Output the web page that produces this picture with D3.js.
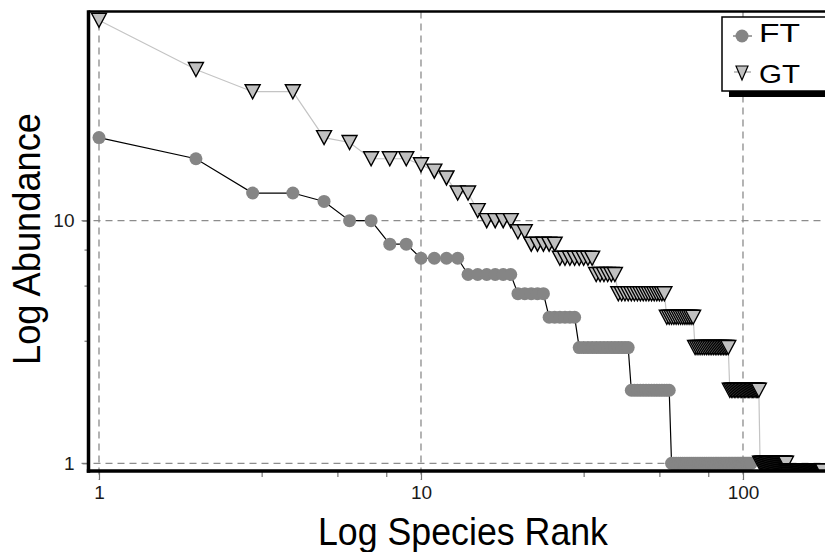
<!DOCTYPE html>
<html>
<head>
<meta charset="utf-8">
<script src="https://cdn.jsdelivr.net/npm/d3@7"></script>
<style>
  html, body { margin: 0; padding: 0; background: #fff; }
  svg { display: block; }
</style>
</head>
<body>
<svg id="chart" width="825" height="552"></svg>
<script>
// Rank-abundance data: abundance of each species, in rank order (rank = position + 1)
const seriesNames = ["FT", "GT"];

const ftAbundance = [
  22, 18, 13, 13, 12, 10, 10, 8, 8,
  7, 7, 7, 7,
  6, 6, 6, 6, 6, 6,
  5, 5, 5, 5, 5,
  4, 4, 4, 4, 4, 4,
  3, 3, 3, 3, 3, 3, 3, 3, 3, 3, 3, 3, 3, 3,
  2, 2, 2, 2, 2, 2, 2, 2, 2, 2, 2, 2, 2, 2, 2,
  1, 1, 1, 1, 1, 1, 1, 1, 1, 1, 1, 1, 1, 1, 1, 1, 1, 1, 1, 1, 1, 1, 1, 1,
  1, 1, 1, 1, 1, 1, 1, 1, 1, 1, 1, 1, 1, 1, 1, 1, 1, 1, 1, 1, 1, 1, 1
];

const gtAbundance = [
  67, 42, 34, 34, 22, 21, 18, 18, 18, 17, 16, 15, 13, 13, 11,
  10, 10, 10, 10,
  9, 9,
  8, 8, 8, 8, 8,
  7, 7, 7, 7, 7, 7, 7, 7,
  6, 6, 6, 6, 6, 6,
  5, 5, 5, 5, 5, 5, 5, 5, 5, 5, 5, 5, 5, 5, 5, 5, 5,
  4, 4, 4, 4, 4, 4, 4, 4, 4, 4, 4, 4, 4,
  3, 3, 3, 3, 3, 3, 3, 3, 3, 3, 3, 3, 3, 3, 3, 3, 3, 3, 3, 3,
  2, 2, 2, 2, 2, 2, 2, 2, 2, 2, 2, 2, 2, 2, 2, 2, 2, 2, 2, 2, 2, 2,
  1, 1, 1, 1, 1, 1, 1, 1, 1, 1, 1, 1, 1, 1, 1, 1, 1, 1, 1, 1, 1, 1, 1, 1,
  0.93, 0.93, 0.93, 0.93, 0.93, 0.93, 0.93, 0.93, 0.93, 0.93, 0.93, 0.93, 0.93, 0.93,
  0.93, 0.93, 0.93, 0.93, 0.93, 0.93, 0.93, 0.93, 0.93, 0.93, 0.93, 0.93, 0.93, 0.93,
  0.93, 0.93, 0.93, 0.93, 0.93, 0.93, 0.93, 0.93, 0.93, 0.93, 0.93, 0.93, 0.93
];

const xMajorTicks = [1, 10, 100];
const xMinorTicks = [3.2, 5.5, 7.8, 32, 55, 78];
const yMajorTicks = [1, 10];
const yMinorTicks = [3.2, 5.4, 7.6];
const xTitle = "Log Species Rank";
const yTitle = "Log Abundance";

// ---- layout ----
const svg = d3.select("#chart");
const plot = { left: 88.5, right: 830, top: 11.5, bottom: 471 };
const FONT = "'Liberation Sans', Arial, sans-serif";

const x = d3.scaleLog().domain([0.9277, 186.3]).range([plot.left, plot.right]);
const y = d3.scaleLog().domain([0.9295, 72.8]).range([plot.bottom, plot.top]);

const toPoints = arr => arr.map((v, i) => ({ rank: i + 1, value: v }));
const ftData = toPoints(ftAbundance);
const gtData = toPoints(gtAbundance);

svg.append("rect").attr("width", 825).attr("height", 552).attr("fill", "#fff");

svg.append("defs").append("clipPath").attr("id", "plotClip")
  .append("rect")
  .attr("x", plot.left).attr("y", plot.top)
  .attr("width", plot.right - plot.left).attr("height", plot.bottom - plot.top);

// ---- dashed grid ----
const grid = svg.append("g").attr("stroke", "#8c8c8c").attr("stroke-width", 1.3)
  .attr("stroke-dasharray", "7,5");
grid.selectAll("line.vx").data(xMajorTicks).join("line")
  .attr("x1", d => x(d)).attr("x2", d => x(d))
  .attr("y1", plot.top).attr("y2", plot.bottom + 9);
grid.selectAll("line.hy").data(yMajorTicks).join("line")
  .attr("y1", d => y(d)).attr("y2", d => y(d))
  .attr("x1", plot.left - 7).attr("x2", 825);

// ---- series ----
const line = d3.line().x(d => x(d.rank)).y(d => y(d.value));
const plotArea = svg.append("g").attr("clip-path", "url(#plotClip)");

const trianglePath = "M-7.5,-7L7.5,-7L0,7Z";

function drawFT(g) {
  g.append("path").datum(ftData).attr("d", line)
    .attr("fill", "none").attr("stroke", "#000").attr("stroke-width", 1.2);
  g.selectAll("circle.ft").data(ftData).join("circle")
    .attr("class", "ft")
    .attr("cx", d => x(d.rank)).attr("cy", d => y(d.value))
    .attr("r", 6.5).attr("fill", "#858585");
}
function drawGT(g) {
  g.append("path").datum(gtData).attr("d", line)
    .attr("fill", "none").attr("stroke", "#c4c4c4").attr("stroke-width", 1.2);
  g.selectAll("path.gt").data(gtData).join("path")
    .attr("class", "gt")
    .attr("d", trianglePath)
    .attr("transform", d => `translate(${x(d.rank)},${y(d.value)})`)
    .attr("fill", "#c0c0c0").attr("stroke", "#000").attr("stroke-width", 1.4)
    .attr("stroke-linejoin", "miter");
}
drawFT(plotArea.append("g"));
drawGT(plotArea.append("g"));

// ---- axes ----
const xAxis = svg.append("g").attr("transform", `translate(0,${plot.bottom})`)
  .call(d3.axisBottom(x).tickValues(xMajorTicks).tickFormat(d3.format("d"))
    .tickSize(9).tickPadding(6));
const xMinor = svg.append("g").attr("transform", `translate(0,${plot.bottom})`)
  .call(d3.axisBottom(x).tickValues(xMinorTicks).tickFormat("").tickSize(6));
const yAxis = svg.append("g").attr("transform", `translate(${plot.left},0)`)
  .call(d3.axisLeft(y).tickValues(yMajorTicks).tickFormat(d3.format("d"))
    .tickSize(6).tickPadding(8));
const yMinor = svg.append("g").attr("transform", `translate(${plot.left},0)`)
  .call(d3.axisLeft(y).tickValues(yMinorTicks).tickFormat("").tickSize(4));

[xAxis, xMinor, yAxis, yMinor].forEach(g => {
  g.select(".domain").remove();
  g.selectAll(".tick line").attr("stroke", "#777").attr("stroke-width", 1.2);
  g.selectAll(".tick text").attr("fill", "#1a1a1a")
    .style("font-family", FONT).style("font-size", "19px");
});

// ---- frame ----
svg.append("line").attr("x1", plot.left).attr("x2", 825)
  .attr("y1", plot.top).attr("y2", plot.top)
  .attr("stroke", "#000").attr("stroke-width", 2.5);
svg.append("line").attr("x1", plot.left).attr("x2", plot.left)
  .attr("y1", plot.top - 1.2).attr("y2", plot.bottom + 1.7)
  .attr("stroke", "#000").attr("stroke-width", 3.5);
svg.append("line").attr("x1", plot.left - 1.7).attr("x2", 825)
  .attr("y1", plot.bottom).attr("y2", plot.bottom)
  .attr("stroke", "#000").attr("stroke-width", 3.5);

// ---- axis titles (slightly condensed) ----
svg.append("text")
  .attr("x", 463).attr("y", 545)
  .attr("text-anchor", "middle")
  .attr("textLength", 290).attr("lengthAdjust", "spacingAndGlyphs")
  .style("font-family", FONT).style("font-size", "39px").attr("fill", "#000")
  .text(xTitle);
svg.append("text")
  .attr("transform", "translate(40,239) rotate(-90)")
  .attr("text-anchor", "middle")
  .attr("textLength", 252).attr("lengthAdjust", "spacingAndGlyphs")
  .style("font-family", FONT).style("font-size", "39px").attr("fill", "#000")
  .text(yTitle);

// ---- legend ----
const legend = svg.append("g");
legend.append("rect").attr("x", 729).attr("y", 23).attr("width", 110).attr("height", 74)
  .attr("fill", "#000");
legend.append("rect").attr("x", 722).attr("y", 17).attr("width", 110).attr("height", 74)
  .attr("fill", "#fff").attr("stroke", "#000").attr("stroke-width", 1.5);

const legendRows = [
  { name: seriesNames[0], base: 42 },
  { name: seriesNames[1], base: 83 }
];
// FT sample
legend.append("line").attr("x1", 733).attr("x2", 752).attr("y1", 36).attr("y2", 36)
  .attr("stroke", "#666").attr("stroke-width", 1.2);
legend.append("circle").attr("cx", 742).attr("cy", 36).attr("r", 6.5).attr("fill", "#858585");
// GT sample
legend.append("line").attr("x1", 734).attr("x2", 751).attr("y1", 72).attr("y2", 72)
  .attr("stroke", "#999").attr("stroke-width", 1.2);
legend.append("path").attr("d", "M-6,-7L6,-7L0,7Z")
  .attr("transform", "translate(742,73)")
  .attr("fill", "#c0c0c0").attr("stroke", "#000").attr("stroke-width", 1.2);

legend.selectAll("text.lg").data(legendRows).join("text")
  .attr("class", "lg")
  .attr("x", 759).attr("y", d => d.base)
  .attr("textLength", 41).attr("lengthAdjust", "spacingAndGlyphs")
  .style("font-family", FONT).style("font-size", "25px")
  .attr("fill", "#000")
  .text(d => d.name);
</script>
</body>
</html>
